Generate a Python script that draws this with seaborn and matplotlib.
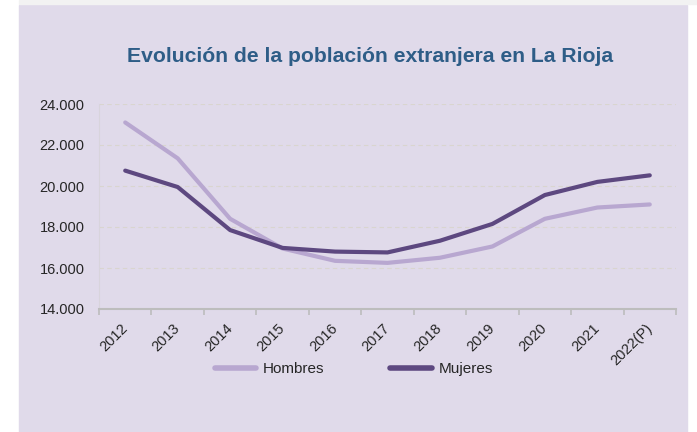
import numpy as np
import pandas as pd
import matplotlib
matplotlib.use("Agg")
import matplotlib.pyplot as plt
import matplotlib.transforms as mtransforms
import seaborn as sns
from matplotlib.patches import Rectangle
from matplotlib.ticker import FuncFormatter

# data
years = ["2012", "2013", "2014", "2015", "2016", "2017",
         "2018", "2019", "2020", "2021", "2022(P)"]
hombres = [23100, 21350, 18400, 16950, 16350, 16250,
           16500, 17050, 18400, 18950, 19100]
mujeres = [20750, 19950, 17850, 16980, 16800, 16760,
           17330, 18150, 19560, 20200, 20520]

bg = "#E0DAEA"
col_h = "#B8A7D0"
col_m = "#5D4880"

df = pd.DataFrame({
    "Año": years * 2,
    "Población": hombres + mujeres,
    "Sexo": ["Hombres"] * len(years) + ["Mujeres"] * len(years),
})

sns.set_style("white")
plt.rcParams["font.family"] = ["Liberation Sans", "DejaVu Sans"]

fig = plt.figure(figsize=(6.97, 4.32), dpi=100, facecolor="white")
# lavender panel and grey strip on top
fig.patches.append(Rectangle((19 / 697, 0), 668 / 697, 427 / 432,
                             transform=fig.transFigure, color=bg, zorder=-2))
fig.patches.append(Rectangle((19 / 697, 428 / 432), 678 / 697, 4 / 432,
                             transform=fig.transFigure, color="#F2F2F2", zorder=-2))

ax = fig.add_axes([99 / 697, 1 - 309 / 432, 577 / 697, 205 / 432])
ax.set_facecolor(bg)

sns.lineplot(data=df, x="Año", y="Población", hue="Sexo",
             palette={"Hombres": col_h, "Mujeres": col_m},
             linewidth=3, ax=ax, sort=False, legend=False)

ax.set_xlim(-0.5, len(years) - 0.5)
ax.set_ylim(14000, 24000)
ax.set_yticks(np.arange(14000, 24001, 2000))
ax.yaxis.set_major_formatter(FuncFormatter(lambda v, p: f"{int(v):,}".replace(",", ".")))
ax.set_xlabel("")
ax.set_ylabel("")

ax.grid(axis="y", color="#D9D5CF", linestyle=(0, (4, 3)), linewidth=0.8)
ax.set_axisbelow(True)
for s in ["top", "right"]:
    ax.spines[s].set_visible(False)
ax.spines["left"].set_color("#D8D4DC")
ax.spines["bottom"].set_color("#BDBDBD")
ax.spines["bottom"].set_linewidth(1.5)

# category boundary ticks on the x axis
ax.set_xticks(range(len(years)))
ax.set_xticks(np.arange(-0.5, len(years), 1), minor=True)
ax.tick_params(axis="x", which="minor", bottom=True, length=4,
               color="#BDBDBD", width=1.2)
ax.tick_params(axis="x", which="major", bottom=True, length=0, pad=9)
ax.tick_params(axis="y", length=0, pad=10.5, labelsize=10.5)
ax.set_xticklabels(years, rotation=45, ha="right", va="top",
                   rotation_mode="anchor", fontsize=10.5)
shift = mtransforms.ScaledTranslation(-5 / 100, 0, fig.dpi_scale_trans)
for lab in ax.get_xticklabels():
    lab.set_transform(lab.get_transform() + shift)

fig.text(370 / 697, 1 - 56 / 432, "Evolución de la población extranjera en La Rioja",
         ha="center", va="center", fontsize=15.25, fontweight="bold", color="#2E5D87")

handles = [plt.Line2D([], [], color=col_h, lw=4),
           plt.Line2D([], [], color=col_m, lw=4)]
fig.legend(handles, ["Hombres", "Mujeres"], loc="center",
           bbox_to_anchor=(354 / 697, 1 - 369 / 432), ncol=2, frameon=False,
           fontsize=11, handlelength=2.7, columnspacing=4.3, handletextpad=0.45)

fig.savefig("out.png", dpi=100, facecolor="white")
